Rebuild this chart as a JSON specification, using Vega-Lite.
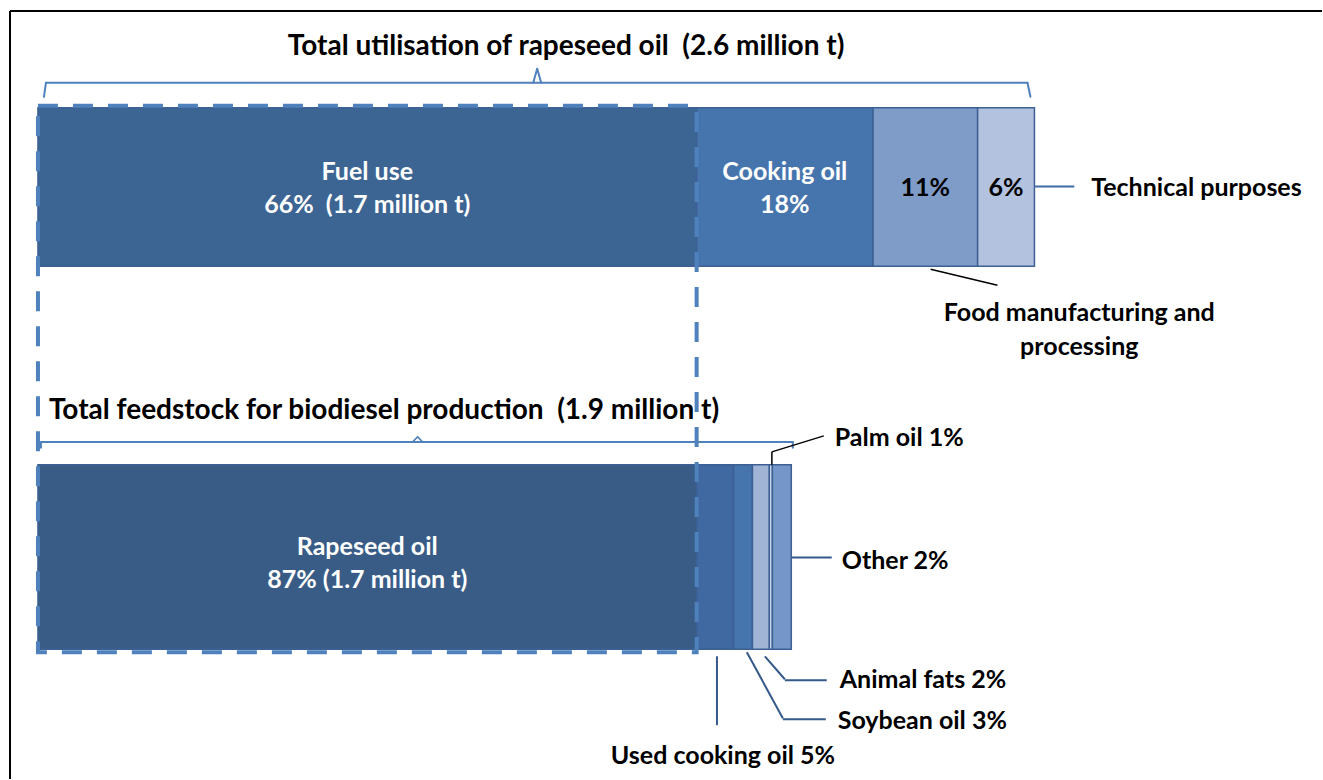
{
  "$schema": "https://vega.github.io/schema/vega-lite/v6.json",
  "width": 1323,
  "height": 780,
  "autosize": {"type": "fit", "contains": "padding"},
  "padding": {"left": 9, "top": 10, "right": 0, "bottom": 0},
  "background": "white",
  "config": {
    "view": {"stroke": null},
    "axis": {"disable": true},
    "text": {"font": "Lato", "fontWeight": "bold", "fontSize": 25, "baseline": "middle", "color": "#000000"}
  },
  "data": {
    "values": [
      {"panel": "top", "title": "Total utilisation of rapeseed oil\u00a0 (2.6 million t)", "order": 1, "category": "Fuel use", "pct": 66, "share": 66.1, "inside": ["Fuel use", "66%\u00a0 (1.7 million t)"], "note": null},
      {"panel": "top", "title": "Total utilisation of rapeseed oil\u00a0 (2.6 million t)", "order": 2, "category": "Cooking oil", "pct": 18, "share": 17.7, "inside": ["Cooking oil", "18%"], "note": null},
      {"panel": "top", "title": "Total utilisation of rapeseed oil\u00a0 (2.6 million t)", "order": 3, "category": "Food manufacturing and processing", "pct": 11, "share": 10.5, "inside": ["11%"], "note": ["Food manufacturing and", "processing"]},
      {"panel": "top", "title": "Total utilisation of rapeseed oil\u00a0 (2.6 million t)", "order": 4, "category": "Technical purposes", "pct": 6, "share": 5.7, "inside": ["6%"], "note": "Technical purposes"},
      {"panel": "bottom", "title": "Total feedstock for biodiesel production\u00a0 (1.9 million t)", "order": 1, "category": "Rapeseed oil", "pct": 87, "share": 66.1, "inside": ["Rapeseed oil", "87% (1.7 million t)"], "note": null},
      {"panel": "bottom", "title": "Total feedstock for biodiesel production\u00a0 (1.9 million t)", "order": 2, "category": "Used cooking oil", "pct": 5, "share": 3.7, "inside": null, "note": "Used cooking oil 5%"},
      {"panel": "bottom", "title": "Total feedstock for biodiesel production\u00a0 (1.9 million t)", "order": 3, "category": "Soybean oil", "pct": 3, "share": 1.9, "inside": null, "note": "Soybean oil 3%"},
      {"panel": "bottom", "title": "Total feedstock for biodiesel production\u00a0 (1.9 million t)", "order": 4, "category": "Animal fats", "pct": 2, "share": 1.7, "inside": null, "note": "Animal fats 2%"},
      {"panel": "bottom", "title": "Total feedstock for biodiesel production\u00a0 (1.9 million t)", "order": 5, "category": "Palm oil", "pct": 1, "share": 0.3, "inside": null, "note": "Palm oil 1%"},
      {"panel": "bottom", "title": "Total feedstock for biodiesel production\u00a0 (1.9 million t)", "order": 6, "category": "Other", "pct": 2, "share": 1.9, "inside": null, "note": "Other 2%"}
    ]
  },
  "transform": [
    {"stack": "share", "groupby": ["panel"], "sort": [{"field": "order"}], "as": ["x0", "x1"]},
    {"calculate": "(datum.x0 + datum.x1) / 2", "as": "mid"}
  ],
  "layer": [
    {
      "transform": [{"filter": "datum.panel === 'top'"}],
      "mark": {"type": "rect", "stroke": "#3C6094", "strokeWidth": 1.5},
      "encoding": {
        "x": {"field": "x0", "type": "quantitative", "scale": {"domain": [-2.806, 128.858], "nice": false, "zero": false}, "axis": null},
        "x2": {"field": "x1"},
        "y": {"datum": 97, "type": "quantitative", "scale": {"domain": [0, 770], "reverse": true, "nice": false, "zero": false}, "axis": null},
        "y2": {"datum": 256},
        "color": {"field": "category", "type": "nominal", "legend": null,
          "scale": {
            "domain": ["Fuel use", "Cooking oil", "Food manufacturing and processing", "Technical purposes", "Rapeseed oil", "Used cooking oil", "Soybean oil", "Animal fats", "Palm oil", "Other"],
            "range": ["#3D6593", "#4675AD", "#7F9CC8", "#B3C2DE", "#395C87", "#3F69A0", "#4675AD", "#A2B4D6", "#DCE3F0", "#7496C8"]
          }}
      }
    },
    {
      "transform": [{"filter": "datum.panel === 'bottom'"}],
      "mark": {"type": "rect", "stroke": "#3C6094", "strokeWidth": 1.5},
      "encoding": {
        "x": {"field": "x0", "type": "quantitative"},
        "x2": {"field": "x1"},
        "y": {"datum": 455, "type": "quantitative"},
        "y2": {"datum": 640},
        "color": {"field": "category", "type": "nominal", "legend": null}
      }
    },
    {
      "transform": [{"filter": "datum.category === 'Fuel use'"}],
      "mark": {"type": "rect", "fill": "transparent", "stroke": "#4F81BD", "strokeWidth": 4, "strokeDash": [20, 15]},
      "encoding": {
        "x": {"field": "x0", "type": "quantitative"},
        "x2": {"field": "x1"},
        "y": {"datum": 95, "type": "quantitative"},
        "y2": {"datum": 643}
      }
    },
    {
      "transform": [{"filter": "datum.panel === 'top' && datum.order === 1"}],
      "mark": {"type": "rule", "stroke": "#000000", "strokeWidth": 2},
      "encoding": {"x": {"datum": -2.806, "type": "quantitative"}, "x2": {"datum": 128.858}, "y": {"datum": 0, "type": "quantitative"}}
    },
    {
      "transform": [{"filter": "datum.panel === 'top' && datum.order === 1"}],
      "mark": {"type": "rule", "stroke": "#000000", "strokeWidth": 2},
      "encoding": {"x": {"datum": -2.806, "type": "quantitative"}, "y": {"datum": 0, "type": "quantitative"}, "y2": {"datum": 770}}
    },
    {
      "transform": [{"filter": "datum.panel === 'top' && datum.order === 1"}],
      "mark": {"type": "rule", "stroke": "#4F81BD", "strokeWidth": 2, "strokeCap": "round"},
      "encoding": {"x": {"datum": 0.8, "type": "quantitative"}, "x2": {"datum": 99.3}, "y": {"datum": 72, "type": "quantitative"}}
    },
    {
      "transform": [{"filter": "datum.panel === 'top' && datum.order === 1"}],
      "mark": {"type": "rule", "stroke": "#4F81BD", "strokeWidth": 2, "strokeCap": "round"},
      "encoding": {"x": {"datum": 0.8, "type": "quantitative"}, "x2": {"datum": 0.6}, "y": {"datum": 72, "type": "quantitative"}, "y2": {"datum": 86}}
    },
    {
      "transform": [{"filter": "datum.panel === 'top' && datum.order === 1"}],
      "mark": {"type": "rule", "stroke": "#4F81BD", "strokeWidth": 2, "strokeCap": "round"},
      "encoding": {"x": {"datum": 99.3, "type": "quantitative"}, "x2": {"datum": 99.6}, "y": {"datum": 72, "type": "quantitative"}, "y2": {"datum": 86}}
    },
    {
      "transform": [{"filter": "datum.panel === 'top' && datum.order === 1"}],
      "mark": {"type": "rule", "stroke": "#4F81BD", "strokeWidth": 2, "strokeCap": "round"},
      "encoding": {"x": {"datum": 49.7, "type": "quantitative"}, "x2": {"datum": 50.1}, "y": {"datum": 72, "type": "quantitative"}, "y2": {"datum": 58}}
    },
    {
      "transform": [{"filter": "datum.panel === 'top' && datum.order === 1"}],
      "mark": {"type": "rule", "stroke": "#4F81BD", "strokeWidth": 2, "strokeCap": "round"},
      "encoding": {"x": {"datum": 50.1, "type": "quantitative"}, "x2": {"datum": 50.5}, "y": {"datum": 58, "type": "quantitative"}, "y2": {"datum": 72}}
    },
    {
      "transform": [{"filter": "datum.panel === 'bottom' && datum.order === 1"}],
      "mark": {"type": "rule", "stroke": "#4F81BD", "strokeWidth": 2, "strokeCap": "round"},
      "encoding": {"x": {"datum": 0.3, "type": "quantitative"}, "x2": {"datum": 75.75}, "y": {"datum": 432, "type": "quantitative"}}
    },
    {
      "transform": [{"filter": "datum.panel === 'bottom' && datum.order === 1"}],
      "mark": {"type": "rule", "stroke": "#4F81BD", "strokeWidth": 2, "strokeCap": "round"},
      "encoding": {"x": {"datum": 0.3, "type": "quantitative"}, "y": {"datum": 432, "type": "quantitative"}, "y2": {"datum": 438}}
    },
    {
      "transform": [{"filter": "datum.panel === 'bottom' && datum.order === 1"}],
      "mark": {"type": "rule", "stroke": "#4F81BD", "strokeWidth": 2, "strokeCap": "round"},
      "encoding": {"x": {"datum": 75.75, "type": "quantitative"}, "y": {"datum": 432, "type": "quantitative"}, "y2": {"datum": 438}}
    },
    {
      "transform": [{"filter": "datum.panel === 'bottom' && datum.order === 1"}],
      "mark": {"type": "rule", "stroke": "#4F81BD", "strokeWidth": 1.5, "strokeCap": "round"},
      "encoding": {"x": {"datum": 37.6, "type": "quantitative"}, "x2": {"datum": 38.1}, "y": {"datum": 432, "type": "quantitative"}, "y2": {"datum": 427}}
    },
    {
      "transform": [{"filter": "datum.panel === 'bottom' && datum.order === 1"}],
      "mark": {"type": "rule", "stroke": "#4F81BD", "strokeWidth": 1.5, "strokeCap": "round"},
      "encoding": {"x": {"datum": 38.1, "type": "quantitative"}, "x2": {"datum": 38.6}, "y": {"datum": 427, "type": "quantitative"}, "y2": {"datum": 432}}
    },
    {
      "transform": [{"filter": "datum.panel === 'top' && datum.order === 1"}],
      "mark": {"type": "text", "align": "center", "fontSize": 28},
      "encoding": {"x": {"datum": 53.0, "type": "quantitative"}, "y": {"datum": 36, "type": "quantitative"}, "text": {"field": "title"}}
    },
    {
      "transform": [{"filter": "datum.panel === 'bottom' && datum.order === 1"}],
      "mark": {"type": "text", "align": "left", "fontSize": 28},
      "encoding": {"x": {"datum": 1.1, "type": "quantitative"}, "y": {"datum": 401, "type": "quantitative"}, "text": {"field": "title"}}
    },
    {
      "transform": [{"filter": "datum.panel === 'top' && datum.inside != null && datum.pct >= 15"}],
      "mark": {"type": "text", "align": "center", "lineHeight": 33, "color": "#FFFFFF"},
      "encoding": {
        "x": {"field": "mid", "type": "quantitative"},
        "y": {"datum": 161, "type": "quantitative"},
        "text": {"field": "inside"}
      }
    },
    {
      "transform": [{"filter": "datum.panel === 'top' && datum.inside != null && datum.pct < 15"}],
      "mark": {"type": "text", "align": "center", "color": "#000000"},
      "encoding": {
        "x": {"field": "mid", "type": "quantitative"},
        "y": {"datum": 177, "type": "quantitative"},
        "text": {"field": "inside"}
      }
    },
    {
      "transform": [{"filter": "datum.panel === 'bottom' && datum.inside != null"}],
      "mark": {"type": "text", "align": "center", "lineHeight": 33, "color": "#FFFFFF"},
      "encoding": {
        "x": {"field": "mid", "type": "quantitative"},
        "y": {"datum": 537, "type": "quantitative"},
        "text": {"field": "inside"}
      }
    },
    {
      "transform": [{"filter": "datum.category === 'Technical purposes'"}],
      "mark": {"type": "rule", "stroke": "#3E6AA6", "strokeWidth": 2},
      "encoding": {"x": {"datum": 100, "type": "quantitative"}, "x2": {"datum": 104.0}, "y": {"datum": 176, "type": "quantitative"}}
    },
    {
      "transform": [{"filter": "datum.category === 'Technical purposes'"}],
      "mark": {"type": "text", "align": "left"},
      "encoding": {"x": {"datum": 105.7, "type": "quantitative"}, "y": {"datum": 177, "type": "quantitative"}, "text": {"field": "note"}}
    },
    {
      "transform": [{"filter": "datum.category === 'Food manufacturing and processing'"}],
      "mark": {"type": "rule", "stroke": "#000000", "strokeWidth": 1.5},
      "encoding": {"x": {"datum": 89.58, "type": "quantitative"}, "x2": {"datum": 96.29}, "y": {"datum": 259, "type": "quantitative"}, "y2": {"datum": 275}}
    },
    {
      "transform": [{"filter": "datum.category === 'Food manufacturing and processing'"}],
      "mark": {"type": "text", "align": "center", "lineHeight": 34},
      "encoding": {"x": {"datum": 104.5, "type": "quantitative"}, "y": {"datum": 303, "type": "quantitative"}, "text": {"field": "note"}}
    },
    {
      "transform": [{"filter": "datum.category === 'Palm oil'"}],
      "mark": {"type": "rule", "stroke": "#000000", "strokeWidth": 1.5},
      "encoding": {"x": {"datum": 73.65, "type": "quantitative"}, "y": {"datum": 455, "type": "quantitative"}, "y2": {"datum": 442}}
    },
    {
      "transform": [{"filter": "datum.category === 'Palm oil'"}],
      "mark": {"type": "rule", "stroke": "#000000", "strokeWidth": 1.5},
      "encoding": {"x": {"datum": 73.65, "type": "quantitative"}, "x2": {"datum": 78.86}, "y": {"datum": 442, "type": "quantitative"}, "y2": {"datum": 426}}
    },
    {
      "transform": [{"filter": "datum.category === 'Palm oil'"}],
      "mark": {"type": "text", "align": "left"},
      "encoding": {"x": {"datum": 79.96, "type": "quantitative"}, "y": {"datum": 428, "type": "quantitative"}, "text": {"field": "note"}}
    },
    {
      "transform": [{"filter": "datum.category === 'Other'"}],
      "mark": {"type": "rule", "stroke": "#35598A", "strokeWidth": 2},
      "encoding": {"x": {"datum": 75.65, "type": "quantitative"}, "x2": {"datum": 79.66}, "y": {"datum": 548, "type": "quantitative"}}
    },
    {
      "transform": [{"filter": "datum.category === 'Other'"}],
      "mark": {"type": "text", "align": "left"},
      "encoding": {"x": {"datum": 80.66, "type": "quantitative"}, "y": {"datum": 551, "type": "quantitative"}, "text": {"field": "note"}}
    },
    {
      "transform": [{"filter": "datum.category === 'Animal fats'"}],
      "mark": {"type": "rule", "stroke": "#35598A", "strokeWidth": 2},
      "encoding": {"x": {"datum": 72.95, "type": "quantitative"}, "x2": {"datum": 74.95}, "y": {"datum": 647, "type": "quantitative"}, "y2": {"datum": 670}}
    },
    {
      "transform": [{"filter": "datum.category === 'Animal fats'"}],
      "mark": {"type": "rule", "stroke": "#35598A", "strokeWidth": 2},
      "encoding": {"x": {"datum": 74.95, "type": "quantitative"}, "x2": {"datum": 79.16}, "y": {"datum": 671, "type": "quantitative"}}
    },
    {
      "transform": [{"filter": "datum.category === 'Animal fats'"}],
      "mark": {"type": "text", "align": "left"},
      "encoding": {"x": {"datum": 80.46, "type": "quantitative"}, "y": {"datum": 671, "type": "quantitative"}, "text": {"field": "note"}}
    },
    {
      "transform": [{"filter": "datum.category === 'Soybean oil'"}],
      "mark": {"type": "rule", "stroke": "#35598A", "strokeWidth": 2},
      "encoding": {"x": {"datum": 71.14, "type": "quantitative"}, "x2": {"datum": 74.75}, "y": {"datum": 643, "type": "quantitative"}, "y2": {"datum": 709}}
    },
    {
      "transform": [{"filter": "datum.category === 'Soybean oil'"}],
      "mark": {"type": "rule", "stroke": "#35598A", "strokeWidth": 2},
      "encoding": {"x": {"datum": 74.75, "type": "quantitative"}, "x2": {"datum": 79.06}, "y": {"datum": 710, "type": "quantitative"}}
    },
    {
      "transform": [{"filter": "datum.category === 'Soybean oil'"}],
      "mark": {"type": "text", "align": "left"},
      "encoding": {"x": {"datum": 80.26, "type": "quantitative"}, "y": {"datum": 712, "type": "quantitative"}, "text": {"field": "note"}}
    },
    {
      "transform": [{"filter": "datum.category === 'Used cooking oil'"}],
      "mark": {"type": "rule", "stroke": "#35598A", "strokeWidth": 2},
      "encoding": {"x": {"datum": 68.14, "type": "quantitative"}, "y": {"datum": 647, "type": "quantitative"}, "y2": {"datum": 716}}
    },
    {
      "transform": [{"filter": "datum.category === 'Used cooking oil'"}],
      "mark": {"type": "text", "align": "center"},
      "encoding": {"x": {"datum": 68.74, "type": "quantitative"}, "y": {"datum": 747, "type": "quantitative"}, "text": {"field": "note"}}
    }
  ]
}
